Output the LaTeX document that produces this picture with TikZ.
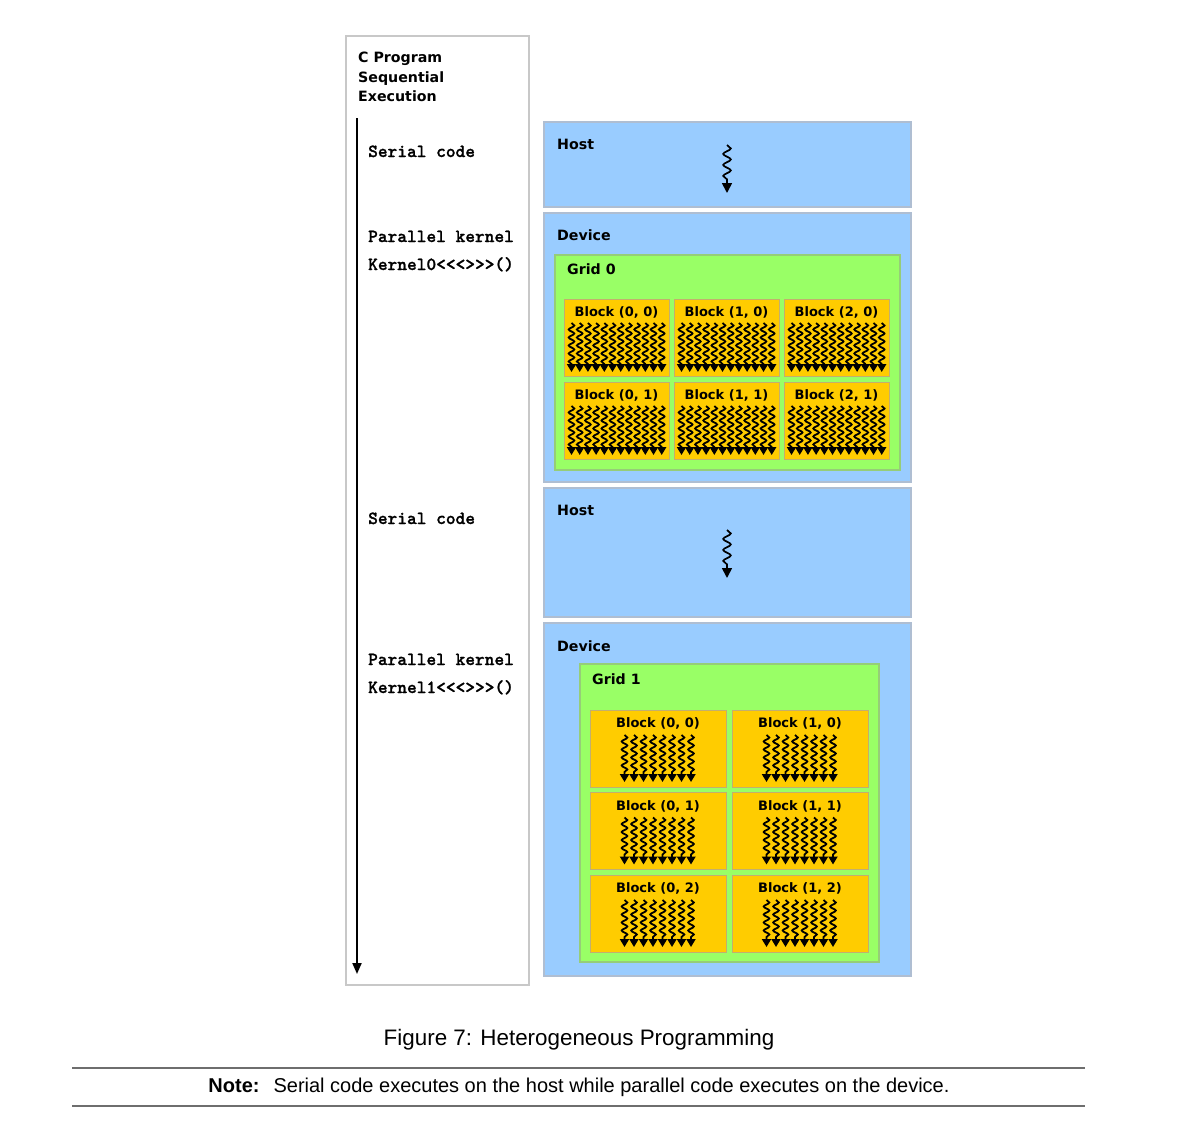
\documentclass[tikz,border=0pt]{standalone}
\usepackage{fontspec}
\setmainfont{DejaVu Sans}
\newfontfamily\capfont{Liberation Sans}
\newfontfamily\codefont[FakeBold=1.2]{lmmonolt10-bold.otf}
\usetikzlibrary{decorations.pathmorphing,arrows.meta}
\definecolor{hostblue}{RGB}{153,204,255}
\definecolor{hostedge}{RGB}{175,190,210}
\definecolor{gridgreen}{RGB}{153,255,102}
\definecolor{gridedge}{RGB}{150,205,120}
\definecolor{blockorange}{RGB}{255,204,0}
\definecolor{blockedge}{RGB}{195,175,110}
\definecolor{paneledge}{RGB}{200,200,200}
\definecolor{rulegray}{RGB}{110,110,110}
\newcommand\drawthreads[5]{%
  \foreach \i in {1,...,#3}{%
    \pgfmathsetmacro\tx{#1+(\i-1)*#2}%
    \draw[thread] (\tx,#4) -- (\tx,#5);%
  }}
\begin{document}
\begin{tikzpicture}[x=1pt,y=-1pt,
  box/.style={anchor=north west, inner sep=0, outer sep=0},
  panel/.style={box, draw=paneledge, line width=1.5pt, fill=white},
  hostbox/.style={box, draw=hostedge, line width=1.5pt, fill=hostblue},
  gridbox/.style={box, draw=gridedge, line width=1.2pt, fill=gridgreen},
  blockbox/.style={box, draw=blockedge, line width=1pt, fill=blockorange},
  lbl/.style={anchor=base west, inner sep=0, font=\bfseries\fontsize{14.2}{16}\selectfont},
  blbl/.style={anchor=base, inner sep=0, font=\bfseries\fontsize{13}{14}\selectfont},
  code/.style={anchor=base west, inner sep=0, font=\codefont\fontsize{18.5}{20}\selectfont},
  thread/.style={line width=1.8pt, decorate,
    decoration={snake, segment length=8pt, amplitude=2.8pt, post length=7pt},
    -{Triangle[length=8pt,width=9pt]}},
  hostthread/.style={line width=1.7pt, decorate,
    decoration={snake, segment length=11pt, amplitude=3.8pt, post length=9pt},
    -{Triangle[length=10pt,width=10pt]}},
  timearrow/.style={line width=2pt, -{Triangle[length=11pt,width=9pt]}},
  rule/.style={draw=rulegray, line width=1.5pt}
]
\useasboundingbox[fill=white] (0,0) rectangle (1189,1136);

% left panel
\node[panel, minimum width=183pt, minimum height=949pt] (prog) at (346,36) {};
\node[lbl] (t1) at (358,62) {C Program};
\node[lbl] (t2) at (358,82) {Sequential};
\node[lbl] (t3) at (358,101) {Execution};
\coordinate (tstart) at (357,118);
\coordinate (tend) at (357,974);
\draw[timearrow] (tstart) -- (tend);
\node[code] (s1) at (368,157) {Serial code};
\node[code] (p1) at (368,242) {Parallel kernel};
\node[code] (k0) at (368,270) {Kernel0<<<>>>()};
\node[code] (s2) at (368,524) {Serial code};
\node[code] (p2) at (368,665) {Parallel kernel};
\node[code] (k1) at (368,693) {Kernel1<<<>>>()};

% host 1
\node[hostbox, minimum width=367pt, minimum height=85pt] (host1) at (544,122) {};
\node[lbl] (host1l) at (557,149) {Host};
\coordinate (h1a) at (727,145);
\coordinate (h1b) at (727,193);
\draw[hostthread] (h1a) -- (h1b);

% device 1
\node[hostbox, minimum width=367pt, minimum height=269pt] (dev1) at (544,213) {};
\node[lbl] (dev1l) at (557,240) {Device};
\node[gridbox, minimum width=345pt, minimum height=215pt] (grid0) at (555,255) {};
\node[lbl] (grid0l) at (567,274) {Grid 0};
\foreach \c in {0,1,2}{
  \foreach \r in {0,1}{
    \pgfmathsetmacro\bl{564+110*\c}
    \pgfmathsetmacro\bt{299+83*\r}
    \node[blockbox, minimum width=105pt, minimum height=77pt] (ga\c\r) at (\bl,\bt) {};
    \node[blbl] at ({\bl+52.5},{\bt+17.5}) {Block (\c, \r)};
    \drawthreads{\bl+7.5}{8.2}{12}{\bt+24}{\bt+73}
  }
}

% host 2
\node[hostbox, minimum width=367pt, minimum height=129pt] (host2) at (544,488) {};
\node[lbl] (host2l) at (557,515) {Host};
\coordinate (h2a) at (727,530);
\coordinate (h2b) at (727,578);
\draw[hostthread] (h2a) -- (h2b);

% device 2
\node[hostbox, minimum width=367pt, minimum height=353pt] (dev2) at (544,623) {};
\node[lbl] (dev2l) at (557,651) {Device};
\node[gridbox, minimum width=299pt, minimum height=298pt] (grid1) at (580,664) {};
\node[lbl] (grid1l) at (592,684) {Grid 1};
\foreach \c in {0,1}{
  \foreach \r in {0,1,2}{
    \pgfmathsetmacro\bl{590+142*\c}
    \pgfmathsetmacro\bt{710+82.5*\r}
    \node[blockbox, minimum width=136pt, minimum height=77pt] (gb\c\r) at (\bl,\bt) {};
    \node[blbl] at ({\bl+68},{\bt+17.5}) {Block (\c, \r)};
    \drawthreads{\bl+34.5}{9.5}{8}{\bt+25}{\bt+72}
  }
}

% caption and note
\node[anchor=base, inner sep=0, font=\capfont\fontsize{22.4}{26}\selectfont] (cap) at (579,1045) {Figure 7: Heterogeneous Programming};
\coordinate (r1a) at (72,1068);
\coordinate (r1b) at (1085,1068);
\draw[rule] (r1a) -- (r1b);
\node[anchor=base, inner sep=0, font=\capfont\fontsize{20}{24}\selectfont] (note) at (579,1092) {\textbf{Note:}\hspace{0.7em}Serial code executes on the host while parallel code executes on the device.};
\coordinate (r2a) at (72,1106);
\coordinate (r2b) at (1085,1106);
\draw[rule] (r2a) -- (r2b);
\end{tikzpicture}
\end{document}
